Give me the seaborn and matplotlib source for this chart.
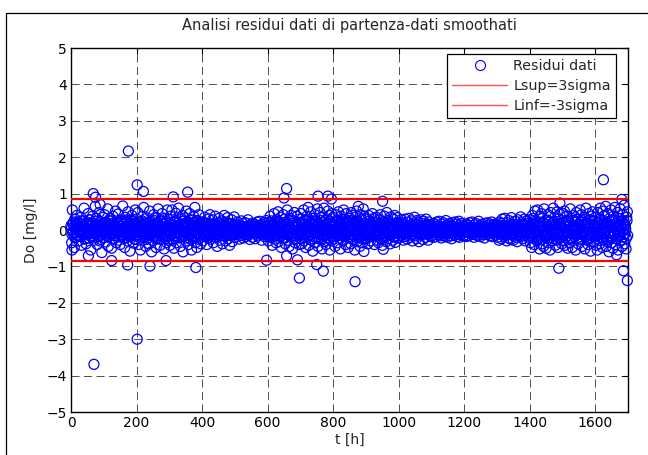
import numpy as np
import matplotlib
matplotlib.use("Agg")
import matplotlib.pyplot as plt
import seaborn as sns
from matplotlib.lines import Line2D
from matplotlib.patches import Rectangle

# residuals (hundredths of mg/l) at even hours, one list per 100 h block
seg_0000 = [12, -35, 55, -8, 22, -48, 30, 5, -20, 40, -15, 8, -30, 18, -5, 35, -42, 10, -12, 25,
            60, -25, 3, -38, 15, -10, 45, -22, 28, -3, -55, 20, -18, 38, 2, -28, 12, 65, -6, 32,
            -40, 8, -15, 48, -30, 22, -2, -62, 18, 35]
seg_0100 = [-20, 42, 5, -33, 18, -8, 58, -45, 25, -12, 32, -2, -50, 14, 38, -25, 7, -15, 52, -35,
            20, -5, 44, -28, 10, -40, 27, -18, 3, 66, -22, 15, -48, 35, -10, 22, -30, 50, -4, 12,
            -58, 28, -16, 40, 6, -36, 18, -8, 55, -26]
seg_0200 = [30, -18, 48, -40, 8, 22, -55, 15, -6, 38, -28, 62, -12, 20, -45, 5, 33, -22, 10, -38,
            52, -8, 25, -60, 14, -30, 42, 2, -16, 35, -48, 18, -3, 58, -25, 12, -42, 28, -10, 45,
            -20, 6, -52, 32, -14, 24, -35, 55, 0, -28]
seg_0300 = [18, -42, 38, -10, 55, -28, 6, -50, 25, -15, 46, -35, 12, -5, 60, -22, 30, -45, 8, -18,
            40, -60, 15, -8, 33, -30, 52, -12, 22, -40, 4, 45, -25, 16, -55, 28, -2, 38, -20, 62,
            -35, 10, -48, 26, -6, 42, -15, 20, -38, 14]
seg_0400 = [22, -30, 8, -15, 35, -5, 18, -40, 12, -22, 30, -10, 42, -25, 5, -18, 28, -35, 15, -8,
            38, -20, 2, -45, 20, -12, 32, -28, 10, -3, 25, -38, 16, -16, 40, -6, -30, 22, -14, 34,
            -24, 6, -42, 18, -10, 28, -32, 12, -4, 36]
seg_0500 = [15, -20, 8, -10, 22, -5, 12, -25, 5, -15, 25, -8, 18, -22, 3, -12, 20, -18, 10, -3,
            28, -14, 6, -26, 14, -6, 18, -20, 2, -10, 16, -24, 9, -4, 22, -16, 12, -8, 24, -12,
            5, -28, 15, -2, 20, -18, 8, -14, 26, -6]
seg_0600 = [20, -30, 12, -20, 38, -8, 25, -42, 15, -15, 45, -25, 5, -35, 28, -10, 50, -32, 18, -5,
            35, -48, 10, -22, 42, -12, 30, -38, 22, -2, 55, -28, 8, -45, 32, -18, 40, -8, -52, 25,
            -15, 48, -35, 12, -25, 38, -5, 20, -40, 30]
seg_0700 = [-22, 45, -38, 18, -8, 55, -30, 28, -48, 10, 38, -15, 62, -42, 20, -5, 50, -28, 32, -58,
            12, -18, 42, -35, 25, -10, 58, -45, 15, -25, 48, -2, 35, -52, 22, -12, 60, -32, 8, -40,
            30, -20, 52, -8, 40, -55, 18, -30, 45, -15]
seg_0800 = [35, -25, 12, -45, 42, -8, 28, -35, 50, -15, 20, -52, 38, -5, 30, -30, 55, -18, 15, -40,
            45, -10, 25, -48, 32, -22, 8, -38, 48, -12, 40, -28, 18, -55, 35, -2, 52, -32, 22, -20,
            10, -45, 42, -15, 28, -35, 58, -8, 38, -25]
seg_0900 = [30, -22, 15, -38, 40, -8, 25, -30, 10, -18, 45, -12, 32, -40, 20, -2, 35, -28, 12, -35,
            28, -15, 42, -25, 5, -42, 22, -10, 38, -20, 18, -32, 48, -6, 26, -24, 14, -38, 36, -14,
            8, -28, 30, -18, 40, -34, 20, -8, 34, -22]
seg_1000 = [18, -22, 10, -15, 28, -5, 20, -28, 12, -10, 30, -18, 6, -25, 22, -8, 32, -20, 14, -3,
            25, -30, 8, -12, 35, -16, 16, -24, 26, -6, 20, -32, 12, -14, 28, -2, 18, -26, 24, -10,
            4, -20, 30, -12, 16, -28, 22, -6, 14, -18]
seg_1100 = [12, -15, 8, -20, 18, -5, 14, -18, 22, -8, 10, -12, 24, -16, 6, -22, 16, -4, 20, -14,
            8, -18, 26, -10, 14, -20, 4, -6, 18, -16, 12, -24, 20, -8, 10, -14, 22, -2, 16, -18,
            6, -12, 24, -20, 14, -6, 18, -10, 8, -16]
seg_1200 = [10, -14, 6, -18, 16, -4, 12, -16, 20, -8, 8, -10, 22, -12, 4, -20, 14, -2, 18, -14,
            6, -16, 24, -8, 12, -18, 2, -6, 16, -12, 10, -22, 18, -6, 8, -12, 20, -4, 14, -16,
            4, -10, 22, -18, 12, -4, 16, -8, 6, -14]
seg_1300 = [14, -20, 10, -28, 22, -6, 18, -24, 30, -10, 12, -18, 32, -14, 6, -30, 20, -4, 26, -22,
            8, -26, 34, -12, 16, -28, 4, -8, 24, -20, 14, -32, 28, -6, 12, -18, 36, -4, 20, -24,
            10, -16, 30, -30, 18, -6, 26, -12, 8, -22]
seg_1400 = [28, -35, 15, -48, 40, -10, 32, -40, 52, -18, 20, -30, 55, -25, 10, -52, 38, -6, 45, -38,
            12, -45, 58, -20, 26, -50, 8, -15, 42, -35, 22, -55, 48, -10, 18, -30, 60, -8, 35, -42,
            15, -28, 50, -48, 30, -12, 44, -22, 10, -38]
seg_1500 = [-30, 45, -15, 52, -42, 20, -8, 38, -50, 28, 12, -35, 58, -22, 32, -48, 5, 40, -18, 25,
            -55, 48, -10, 30, -38, 15, -25, 55, -5, 42, -45, 22, -12, 35, -52, 18, 60, -28, 8, -40,
            45, -20, 28, -58, 38, -8, 50, -32, 12, -15]
seg_1600 = [35, -42, 20, -55, 48, -12, 30, -38, 60, -20, 15, -48, 52, -28, 40, -8, 65, -45, 22, -32,
            45, -60, 10, -18, 55, -35, 28, -50, 38, -5, 62, -40, 18, -25, 48, -55, 32, -12, 58, -30,
            25, -45, 42, -20, 68, -38, 12, -52, 35, 50]

# residuals (hundredths) at odd hours: the dense core of the band
core_0000 = [5, -12, 18, -3, 8, -20, 2, 14, -8, 22, -15, 0, 10, -6, 25, -18, 4, -10, 16, -2,
             12, -24, 7, -5, 20, -14, 3, -9, 28, -1, -16, 11, -4, 19, -22, 6, -12, 15, -7, 24,
             -3, 9, -18, 1, 13, -26, 8, -6, 17, -11]
core_0100 = [-8, 16, -3, 22, -14, 6, -20, 10, -1, 26, -12, 4, -7, 18, -24, 2, 12, -16, 8, -5,
             21, -10, 0, -19, 14, -4, 24, -13, 5, -9, 17, -22, 3, 11, -6, 28, -15, 7, -2, 19,
             -18, 9, -11, 23, -4, 13, -25, 1, 15, -8]
core_0200 = [10, -6, 20, -15, 3, -22, 12, -2, 25, -10, 5, -18, 16, -8, 1, -26, 18, -4, 9, -12,
             22, -1, -16, 7, -9, 27, -20, 4, 13, -5, -23, 11, -3, 17, -14, 6, -10, 24, -7, 2,
             -19, 15, -11, 8, -24, 20, -2, 12, -17, 5]
core_0300 = [-4, 18, -12, 7, -25, 14, -2, 21, -9, 3, -17, 26, -6, 11, -20, 1, 16, -13, 8, -3,
             24, -18, 5, -8, 19, -22, 10, -1, 14, -15, 2, 27, -10, 6, -21, 12, -5, 20, -16, 4,
             -9, 23, -12, 8, -26, 15, -3, 11, -19, 6]
core_0400 = [6, -10, 14, -4, 2, -16, 9, -7, 18, -2, -12, 5, 11, -14, 3, -8, 16, -5, 1, -18,
             10, -3, 13, -11, 7, -1, 20, -9, 4, -15, 8, -6, 12, -2, -17, 15, -4, 6, -12, 19,
             -8, 2, -14, 10, -5, 17, -1, -10, 8, -13]
core_0500 = [3, -6, 8, -2, 1, -9, 5, -4, 10, -1, -7, 2, 6, -8, 0, -5, 9, -3, 4, -10,
             7, -2, 11, -6, 2, -1, 8, -7, 5, -4, 3, -11, 9, 0, -5, 6, -3, 12, -8, 1,
             -6, 7, -2, 10, -4, 4, -9, 2, -1, 8]
core_0600 = [8, -14, 3, -6, 18, -10, 1, -20, 12, -4, 22, -8, 5, -16, 10, -2, 24, -12, 6, -18,
             14, -3, -9, 20, -6, 2, -22, 11, -1, 16, -13, 7, -5, 26, -10, 4, -17, 13, -8, 19,
             -2, 9, -24, 6, -11, 15, -4, 21, -7, 1]
core_0700 = [-6, 20, -12, 4, -22, 14, -1, 25, -9, 6, -18, 11, -3, 28, -15, 8, -7, 19, -24, 2,
             13, -10, 23, -5, 9, -20, 16, -2, -13, 27, -8, 5, -26, 12, -4, 21, -16, 7, -1, 18,
             -11, 3, -23, 15, -6, 24, -9, 10, -19, 1]
core_0800 = [12, -8, 3, -18, 20, -4, 9, -14, 25, -1, 6, -22, 15, -10, 2, -16, 22, -6, 11, -12,
             18, -3, -20, 8, -7, 26, -13, 4, -24, 14, -2, 10, -17, 21, -5, 1, -11, 23, -9, 7,
             -19, 16, -4, 12, -25, 5, -8, 19, -1, -14]
core_0900 = [9, -6, 14, -12, 3, -18, 10, -2, 16, -8, 5, -15, 12, -4, 20, -10, 1, -13, 7, -3,
             18, -9, 6, -20, 11, -1, 15, -7, 4, -16, 13, -5, 22, -11, 2, -14, 8, -2, 17, -12,
             10, -4, -19, 14, -6, 3, -9, 19, -3, 6]
core_1000 = [5, -8, 10, -3, 2, -12, 7, -5, 14, -1, -9, 4, 8, -11, 1, -6, 12, -4, 3, -14,
             9, -2, 6, -10, 11, -5, 2, -8, 15, -3, -7, 10, -1, 4, -13, 8, -6, 12, -2, 1,
             -9, 5, -4, 13, -7, 3, -11, 9, -1, 6]
core_1100 = [3, -5, 7, -2, 1, -8, 4, -3, 9, -1, -6, 2, 5, -7, 0, -4, 8, -3, 2, -9,
             6, -1, 4, -6, 10, -2, 1, -5, 7, -4, 3, -8, 6, 0, -3, 5, -7, 9, -2, 2,
             -5, 4, -1, 8, -6, 1, -4, 6, -3, 2]
core_1200 = [2, -4, 6, -1, 3, -7, 4, -2, 8, -3, -5, 1, 5, -6, 2, -3, 7, -1, 0, -8,
             5, -2, 3, -5, 9, -4, 1, -6, 6, -1, 2, -7, 4, 0, -3, 8, -5, 3, -2, 6,
             -4, 1, -6, 7, -1, 3, -5, 5, -2, 0]
core_1300 = [5, -8, 2, -11, 9, -3, 6, -6, 13, -1, -9, 4, 10, -12, 2, -5, 14, -7, 3, -4,
             11, -10, 1, -15, 8, -2, 6, -9, 12, -3, -6, 7, -1, 4, -13, 9, -5, 15, -8, 2,
             -11, 10, -4, 5, -7, 13, -2, 1, -10, 6]
core_1400 = [10, -16, 4, -22, 18, -6, 13, -12, 25, -3, -9, 16, -20, 7, -2, 22, -14, 8, -26, 11,
             -5, 19, -10, 2, -18, 14, -7, 27, -12, 5, -21, 9, -1, 17, -15, 6, -24, 20, -4, 12,
             -11, 3, -19, 23, -8, 15, -2, 10, -17, 7]
core_1500 = [-12, 20, -5, 14, -22, 8, -2, 24, -15, 10, -7, 18, -25, 4, -10, 26, -3, 12, -19, 6,
             -14, 22, -1, 9, -20, 16, -8, 3, -26, 21, -6, 13, -11, 28, -4, 7, -17, 19, -9, 2,
             -23, 15, -3, 11, -16, 25, -7, 5, -13, 17]
core_1600 = [14, -18, 6, -24, 20, -4, 10, -13, 27, -8, 3, -21, 16, -11, 22, -2, 9, -26, 18, -6,
             12, -16, 25, -3, 7, -20, 15, -9, 29, -14, 4, -23, 19, -1, 11, -17, 24, -7, 13, -27,
             8, -5, 21, -12, 17, -10, 2, -22, 26, -15]

# isolated residuals
out_t = [3, 53, 68, 75, 70, 89, 124, 173, 175, 202, 202, 221, 241, 290, 312, 356, 381, 597, 650,
         658, 658, 691, 697, 750, 754, 770, 784, 795, 867, 877, 894, 951, 953, 1489, 1492, 1625,
         1665, 1681, 1686, 1698]
out_v = [-0.55, -0.71, 1.0, 0.9, -3.69, 0.70, -0.84, -0.96, 2.17, 1.24, -3.0, 1.06, -0.99, -0.84,
         0.91, 1.04, -1.03, -0.83, 0.88, 1.14, -0.71, -0.82, -1.32, -0.95, 0.93, -1.13, 0.93, 0.85,
         -1.42, 0.65, -0.59, 0.79, -0.53, -1.05, 0.74, 1.38, -0.68, 0.84, -1.12, -1.39]

sigma3 = 0.86

segs = [seg_0000, seg_0100, seg_0200, seg_0300, seg_0400, seg_0500, seg_0600, seg_0700, seg_0800,
        seg_0900, seg_1000, seg_1100, seg_1200, seg_1300, seg_1400, seg_1500, seg_1600]
cores = [core_0000, core_0100, core_0200, core_0300, core_0400, core_0500, core_0600, core_0700,
         core_0800, core_0900, core_1000, core_1100, core_1200, core_1300, core_1400, core_1500,
         core_1600]
band = np.concatenate([np.array(s) / 100.0 for s in segs])
band_t = np.linspace(0, 1698, len(band))
core = np.concatenate([np.array(s) / 100.0 for s in cores])
core_t = np.linspace(1, 1699, len(core))

t = np.concatenate([band_t, core_t, out_t])
res = np.concatenate([band, core, out_v])

sns.set_style("white")
plt.rcParams['font.family'] = ['DejaVu Sans']
plt.rcParams['lines.scale_dashes'] = False
fs = 10

fig = plt.figure(figsize=(6.48, 4.55), dpi=100)
ax = fig.add_axes([71 / 648, 1 - 412 / 455, 557 / 648, 364 / 455])

# outer frame around the figure
fig.patches.append(Rectangle((6 / 648, -0.1), 1.2, 1.1 - 12.7 / 455, transform=fig.transFigure,
                             fill=False, edgecolor='black', linewidth=0.9))

sns.scatterplot(x=t, y=res, ax=ax, marker='o', s=52, facecolors='none', edgecolors='blue',
                linewidth=0.9, clip_on=False, zorder=3)
ax.axhline(sigma3, color='red', linewidth=1.6, zorder=4)
ax.axhline(-sigma3, color='red', linewidth=1.6, zorder=4)

ax.set_xlim(0, 1700)
ax.set_ylim(-5, 5)
ax.set_xticks(range(0, 1700, 200))
ax.set_yticks(range(-5, 6))
ax.grid(True, color='black', linestyle=(0, (5.8, 3.2)), linewidth=0.6, alpha=0.8)
ax.tick_params(direction='in', length=4, width=0.8, top=True, right=True, labelsize=fs,
               colors='black', pad=3)
for sp in ax.spines.values():
    sp.set_color('black')
    sp.set_linewidth(1.0)

ax.set_title('Analisi residui dati di partenza-dati smoothati', fontsize=10.5, pad=13)
ax.set_xlabel('t [h]', fontsize=fs, labelpad=2)
ax.set_ylabel('Do [mg/l]', fontsize=fs, labelpad=6)

handles = [Line2D([], [], marker='o', linestyle='none', markerfacecolor='none',
                  markeredgecolor='blue', markersize=7.2, markeredgewidth=0.8),
           Line2D([], [], color='#ff5050', linewidth=1.0),
           Line2D([], [], color='#ff5050', linewidth=1.0)]
labels = ['Residui dati', 'Lsup=3sigma', 'Linf=-3sigma']
leg = ax.legend(handles, labels, loc='upper right', bbox_to_anchor=(0.978, 0.984), fontsize=10.3,
                frameon=True, fancybox=False, framealpha=1, edgecolor='black', handlelength=3.8,
                labelspacing=0.42, borderpad=0.35, handletextpad=0.45, borderaxespad=0)
leg.get_frame().set_linewidth(0.9)
leg.set_zorder(10)

fig.savefig('out.png', dpi=100)
